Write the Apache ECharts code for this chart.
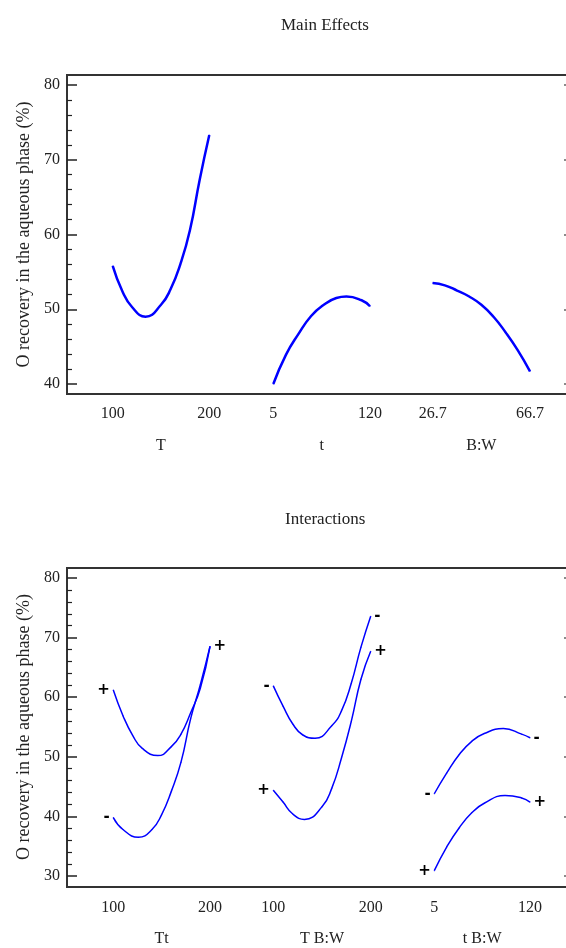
<!DOCTYPE html>
<html>
<head>
<meta charset="utf-8">
<script src="https://cdn.jsdelivr.net/npm/echarts@6/dist/echarts.min.js"></script>
<style>
  html, body { margin: 0; padding: 0; background: #fff; }
  #chart { width: 566px; height: 948px; }
</style>
</head>
<body>
<div id="chart"></div>
<script>
// ---- main effects (turning points included) ----
const mainT_x = [100, 110, 120, 134, 150, 160, 170, 180, 190, 200];
const mainT_y = [55.8, 52.4, 50.3, 49.0, 50.6, 52.7, 56.0, 60.6, 67.3, 73.3];
const main_t_x = [5, 20, 35, 50, 65, 80, 92, 110, 120];
const main_t_y = [40.0, 43.9, 46.7, 49.1, 50.6, 51.5, 51.7, 51.2, 50.4];
const mainBW_x = [26.7, 31.7, 36.7, 41.7, 46.7, 51.7, 56.7, 61.7, 66.7];
const mainBW_y = [53.5, 53.2, 52.5, 51.7, 50.6, 49.0, 46.9, 44.5, 41.7];

// ---- interactions ----
const Tt_plus_x = [100, 110, 120, 130, 146, 160, 170, 180, 190, 200];
const Tt_plus = [61.2, 56.9, 53.6, 51.4, 50.2, 51.7, 53.8, 57.4, 61.5, 68.5];
const Tt_minus_x = [100, 110, 126, 140, 150, 160, 170, 180, 190, 200];
const Tt_minus = [39.8, 37.8, 36.5, 37.8, 40.3, 44.2, 49.1, 56.4, 62.1, 68.5];
const TBW_minus_x = [100, 110, 120, 130, 143, 160, 170, 180, 190, 200];
const TBW_minus = [61.9, 58.5, 55.5, 53.7, 53.1, 55.2, 57.7, 62.3, 68.4, 73.6];
const TBW_plus_x = [100, 110, 120, 132, 150, 160, 170, 180, 190, 200];
const TBW_plus = [44.4, 42.4, 40.4, 39.5, 41.6, 44.7, 49.8, 55.9, 63.0, 67.7];
const tBW_minus_x = [5, 20, 35, 50, 65, 88, 110, 120];
const tBW_minus = [43.8, 47.3, 50.4, 52.6, 53.9, 54.75, 53.8, 53.2];
const tBW_plus_x = [5, 20, 35, 50, 65, 90, 110, 120];
const tBW_plus = [30.9, 34.9, 38.1, 40.6, 42.2, 43.5, 43.1, 42.4];

// tick labels
const T_ticks = [100, 200];
const t_ticks = [5, 120];
const BW_ticks = [26.7, 66.7];
const mainYRange = [40, 80];
const interYRange = [30, 80];

const serif = 'Liberation Serif';
const ink = '#222';

let myChart = echarts.init(document.getElementById('chart'));

// frame grid: only a box, axes hidden
function frameAxes(idx) {
    return {
        x: { gridIndex: idx, show: false, type: 'value', min: 0, max: 1 },
        y: { gridIndex: idx, show: false, type: 'value', min: 0, max: 1 }
    };
}

function panelX(idx, ticks, name, min, max, margin, gap) {
    return {
        gridIndex: idx, type: 'value', min: min, max: max,
        name: name, nameLocation: 'middle', nameGap: gap,
        nameTextStyle: { fontFamily: serif, fontSize: 16, color: ink },
        axisLine: { show: false },
        axisTick: { show: false },
        splitLine: { show: false },
        axisLabel: {
            customValues: ticks, margin: margin,
            fontFamily: serif, fontSize: 16, color: ink,
            formatter: v => String(v)
        }
    };
}

function hiddenY(idx, range) {
    return { gridIndex: idx, type: 'value', min: range[0], max: range[1], show: false };
}

function leftY(idx, range) {
    return {
        gridIndex: idx, type: 'value', min: range[0], max: range[1], interval: 10,
        position: 'left',
        name: 'O recovery in the aqueous phase (%)', nameLocation: 'middle', nameGap: 33,
        nameTextStyle: { fontFamily: serif, fontSize: 18, color: ink },
        axisLine: { show: false },
        axisTick: { show: true, inside: true, length: 10, lineStyle: { color: ink, width: 1.5 } },
        minorTick: { show: true, splitNumber: 5, length: 5, lineStyle: { color: ink, width: 1.2 } },
        splitLine: { show: false },
        axisLabel: { margin: 7, fontFamily: serif, fontSize: 16, color: ink }
    };
}

function rightY(idx, range) {
    return {
        gridIndex: idx, type: 'value', min: range[0], max: range[1], interval: 10,
        position: 'right',
        axisLine: { show: false },
        axisTick: { show: true, inside: true, length: 3, lineStyle: { color: '#666', width: 1.5 } },
        splitLine: { show: false },
        axisLabel: { show: false }
    };
}

const markFont = { fontFamily: 'DejaVu Sans', fontWeight: 'bold', fontSize: 15, color: '#000' };

function curve(xIdx, yIdx, xs, ys, width, startMark, endMark) {
    const data = xs.map((x, i) => {
        const item = { value: [x, ys[i]] };
        if (i === 0 && startMark) {
            item.label = Object.assign({ show: true, position: 'left', distance: 3, formatter: startMark }, markFont);
        }
        if (i === xs.length - 1 && endMark) {
            item.label = Object.assign({ show: true, position: 'right', distance: 3, formatter: endMark }, markFont);
        }
        return item;
    });
    return {
        type: 'line', xAxisIndex: xIdx, yAxisIndex: yIdx,
        data: data, smooth: 0.5,
        symbol: 'circle', symbolSize: 1, showSymbol: true,
        itemStyle: { color: '#0000ff' },
        lineStyle: { color: '#0000ff', width: width },
        label: { show: false },
        silent: true, animation: false
    };
}

function box(left, top, width, height, show) {
    const g = { left: left, top: top, width: width, height: height, outerBoundsMode: 'none', containLabel: false };
    if (show) {
        g.show = true;
        g.borderColor = '#333';
        g.borderWidth = 2;
    }
    return g;
}

const f0 = frameAxes(0), f5 = frameAxes(5);

myChart.setOption({
    animation: false,
    title: [
        { text: 'Main Effects', left: 276, top: 12, textStyle: { fontFamily: serif, fontSize: 17, fontWeight: 'normal', color: ink } },
        { text: 'Interactions', left: 280, top: 506, textStyle: { fontFamily: serif, fontSize: 17, fontWeight: 'normal', color: ink } }
    ],
    grid: [
        // top
        box(67, 75, 515, 319, true),
        box(67, 85, 500, 299),
        box(112.7, 85, 96.6, 299),
        box(273.3, 85, 96.7, 299),
        box(432.7, 85, 97.3, 299),
        // bottom
        box(67, 568, 515, 319, true),
        box(67, 578, 500, 298),
        box(113.3, 578, 96.7, 298),
        box(273.3, 578, 97.4, 298),
        box(434.3, 578, 95.7, 298)
    ],
    xAxis: [
        f0.x,
        { gridIndex: 1, type: 'value', show: false },
        panelX(2, T_ticks, 'T', 100, 200, 22, 54),
        panelX(3, t_ticks, 't', 5, 120, 22, 54),
        panelX(4, BW_ticks, 'B:W', 26.7, 66.7, 22, 54),
        f5.x,
        { gridIndex: 6, type: 'value', show: false },
        panelX(7, T_ticks, 'Tt', 100, 200, 24, 55),
        panelX(8, T_ticks, 'T B:W', 100, 200, 24, 55),
        panelX(9, t_ticks, 't B:W', 5, 120, 24, 55)
    ],
    yAxis: [
        f0.y,
        leftY(1, mainYRange),
        hiddenY(2, mainYRange),
        hiddenY(3, mainYRange),
        hiddenY(4, mainYRange),
        f5.y,
        leftY(6, interYRange),
        hiddenY(7, interYRange),
        hiddenY(8, interYRange),
        hiddenY(9, interYRange),
        rightY(1, mainYRange),
        rightY(6, interYRange)
    ],
    series: [
        curve(2, 2, mainT_x, mainT_y, 2.5),
        curve(3, 3, main_t_x, main_t_y, 2.5),
        curve(4, 4, mainBW_x, mainBW_y, 2.5),
        curve(7, 7, Tt_plus_x, Tt_plus, 1.5, '+', '+'),
        curve(7, 7, Tt_minus_x, Tt_minus, 1.5, '-', null),
        curve(8, 8, TBW_minus_x, TBW_minus, 1.5, '-', '-'),
        curve(8, 8, TBW_plus_x, TBW_plus, 1.5, '+', '+'),
        curve(9, 9, tBW_minus_x, tBW_minus, 1.5, '-', '-'),
        curve(9, 9, tBW_plus_x, tBW_plus, 1.5, '+', '+')
    ]
});
</script>
</body>
</html>
